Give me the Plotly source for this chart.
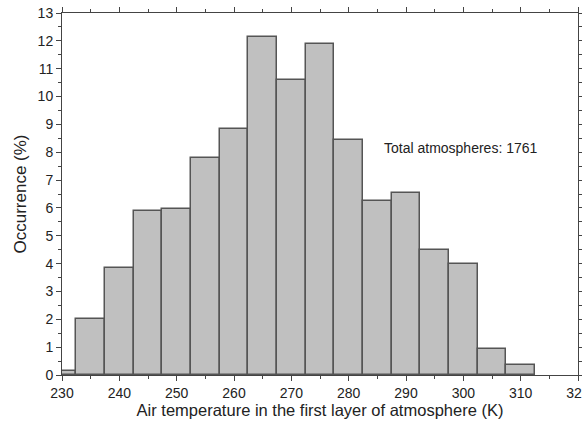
import plotly.graph_objects as go

bin_centers = [230, 235, 240, 245, 250, 255, 260, 265, 270, 275, 280, 285, 290, 295, 300, 305, 310]
occurrence = [0.15, 2.0, 3.85, 5.9, 5.95, 7.8, 8.85, 12.15, 10.6, 11.9, 8.45, 6.25, 6.55, 4.5, 4.0, 0.95, 0.35]
bin_width = 5
annotation_text = "Total atmospheres: 1761"

fig = go.Figure()
fig.add_trace(go.Bar(
    x=bin_centers, y=occurrence, width=[bin_width] * len(bin_centers),
    marker=dict(color="#c0c0c0", line=dict(color="#555555", width=1.5)),
    showlegend=False,
))

axis_font = dict(family="Liberation Sans, Arial, sans-serif", size=14, color="#222")
fig.update_layout(
    width=582, height=430,
    margin=dict(l=62, r=4, t=13, b=55),
    paper_bgcolor="white", plot_bgcolor="white",
    bargap=0,
    font=axis_font,
    xaxis=dict(
        range=[230, 320], tickmode="linear", tick0=230, dtick=10,
        ticks="outside", ticklen=5, tickcolor="#444", tickwidth=1,
        minor=dict(dtick=5, ticks="outside", ticklen=3, tickcolor="#444"),
        showline=True, linecolor="#444", linewidth=1, mirror="allticks",
        showgrid=False, zeroline=False,
        ticklabeloverflow="allow", automargin=False,
        title=dict(text="Air temperature in the first layer of atmosphere (K)",
                   font=dict(size=16.5), standoff=4),
        tickfont=dict(size=14),
    ),
    yaxis=dict(
        range=[0, 13], tickmode="linear", tick0=0, dtick=1,
        ticks="outside", ticklen=5, tickcolor="#444", tickwidth=1,
        minor=dict(dtick=0.5, ticks="outside", ticklen=3, tickcolor="#444"),
        showline=True, linecolor="#444", linewidth=1, mirror="allticks",
        showgrid=False, zeroline=False, automargin=False,
        title=dict(text="Occurrence (%)", font=dict(size=17), standoff=6),
        tickfont=dict(size=14),
    ),
    annotations=[dict(
        x=0.773, y=8.15, xref="paper", yref="y", text=annotation_text,
        showarrow=False, font=dict(size=14, color="#222"), xanchor="center", yanchor="middle",
    )],
)

fig.write_html("out.html")
